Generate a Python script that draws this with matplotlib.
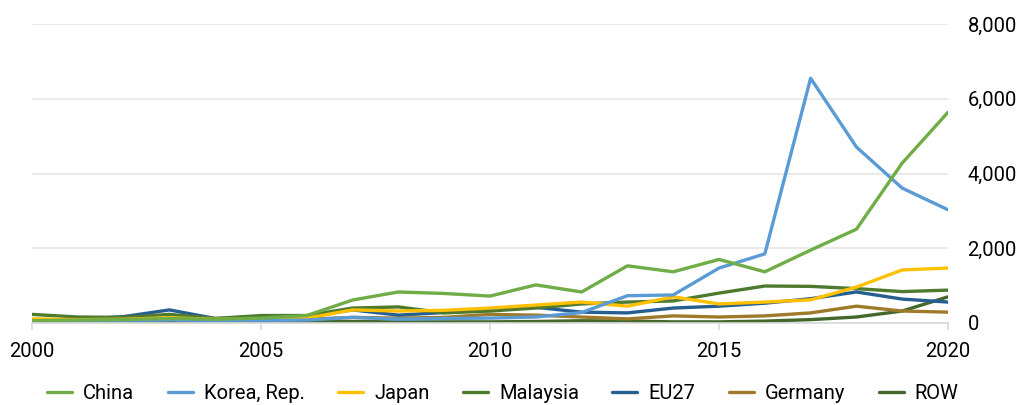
import matplotlib
matplotlib.use("Agg")
import matplotlib.pyplot as plt
from matplotlib.ticker import FuncFormatter, MultipleLocator

years = list(range(2000, 2021))

china = [60, 80, 90, 120, 100, 130, 200, 615, 830, 790, 720, 1020, 830, 1530, 1370, 1700, 1370, 1950, 2510, 4280, 5640]
korea = [40, 50, 60, 80, 50, 60, 80, 150, 100, 120, 130, 160, 280, 730, 750, 1470, 1850, 6550, 4710, 3610, 3030]
japan = [110, 90, 100, 140, 100, 110, 130, 350, 320, 340, 400, 480, 560, 450, 700, 510, 560, 620, 960, 1420, 1470]
malaysia = [230, 160, 150, 230, 120, 200, 200, 400, 430, 270, 320, 400, 510, 560, 590, 800, 990, 980, 920, 840, 880]
eu27 = [70, 100, 170, 350, 120, 150, 180, 350, 210, 280, 360, 420, 290, 270, 400, 450, 530, 650, 830, 640, 560]
germany = [30, 40, 60, 100, 70, 80, 100, 150, 130, 150, 230, 210, 160, 110, 190, 160, 190, 270, 450, 320, 290]
row = [20, 20, 20, 30, 20, 20, 30, 40, 30, 30, 30, 40, 60, 50, 30, 30, 50, 90, 160, 320, 700]

series = [
    ("China", china, "#70AD47"),
    ("Korea, Rep.", korea, "#5B9BD5"),
    ("Japan", japan, "#FFC000"),
    ("Malaysia", malaysia, "#4E7A2E"),
    ("EU27", eu27, "#255E91"),
    ("Germany", germany, "#9E7B2A"),
    ("ROW", row, "#43682B"),
]

plt.rcParams['font.family'] = ['Roboto', 'DejaVu Sans']

fig = plt.figure(figsize=(10.23, 4.05), dpi=100)
ax = fig.add_axes([0.0313, 0.2025, 0.8954, 0.738])

# draw back-to-front so the big series sit on top
for name, vals, color in reversed(series):
    ax.plot(years, vals, color=color, lw=2.4, label=name, solid_capstyle='round')

ax.set_xlim(2000, 2020)
ax.set_ylim(0, 8000)
ax.xaxis.set_major_locator(MultipleLocator(5))
ax.yaxis.set_major_locator(MultipleLocator(2000))
ax.yaxis.set_major_formatter(FuncFormatter(lambda v, p: f"{int(v):,}"))
ax.yaxis.tick_right()
ax.grid(axis='y', color='#e6e6e6', lw=1.2)
ax.set_axisbelow(True)

for side in ['top', 'left', 'right']:
    ax.spines[side].set_visible(False)
ax.spines['bottom'].set_color('#d9d9d9')
ax.spines['bottom'].set_linewidth(1.2)

ax.tick_params(axis='x', colors='#d9d9d9', length=5, width=1.2, labelcolor='black', labelsize=14.5, pad=9)
ax.tick_params(axis='y', length=0, labelsize=14.5, pad=14)

handles, labels = ax.get_legend_handles_labels()
ax.legend(handles[::-1], labels[::-1], loc='center', bbox_to_anchor=(0.514, -0.237),
          ncol=7, frameon=False, fontsize=14.5, handlelength=1.25, handletextpad=0.55,
          columnspacing=1.65, borderaxespad=0)

fig.savefig("out.png", dpi=100)
